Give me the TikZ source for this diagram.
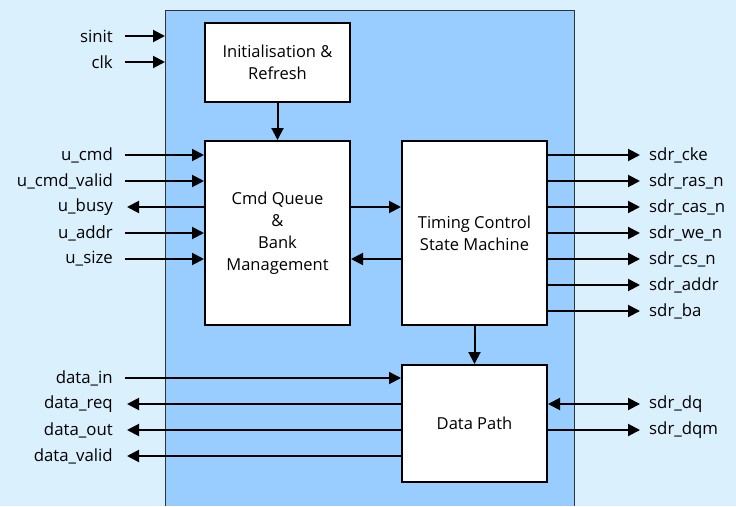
\documentclass[tikz,border=0pt]{standalone}
\usepackage{fontspec}
\setmainfont{Open Sans}
\usetikzlibrary{arrows.meta}
\definecolor{bgc}{HTML}{DAF0FD}
\definecolor{blk}{HTML}{99CCFF}
\begin{document}
\begin{tikzpicture}[x=1pt,y=-1pt,
  box/.style={draw=black,line width=2pt,fill=white,align=center,inner sep=0pt,font=\fontsize{16.5}{22}\selectfont},
  sig/.style={line width=2pt,-{Triangle[length=12pt,width=12pt]}},
  bsig/.style={line width=2pt,{Triangle[length=12pt,width=12pt]}-{Triangle[length=12pt,width=12pt]}},
  lab/.style={font=\fontsize{16.8}{18}\selectfont,inner sep=0pt},
  ll/.style={lab,anchor=east},
  rl/.style={lab,anchor=west}]
\fill[bgc] (0,0) rectangle (736,506);
\useasboundingbox (0,0) rectangle (736,506);
\fill[blk] (165,10) rectangle (574,506);
\draw[line width=1pt,black!80] (165,506) -- (165,10) -- (574,10) -- (574,506);

\node[box,minimum width=145pt,minimum height=79pt] (init) at (277.5,62.5) {Initialisation \&\\Refresh};
\node[box,minimum width=145pt,minimum height=184pt] (cmd) at (277.5,233) {Cmd Queue\\\&\\Bank\\Management};
\node[box,minimum width=145pt,minimum height=184pt] (tim) at (474.5,233) {Timing Control\\State Machine};
\node[box,minimum width=145pt,minimum height=117pt] (dp) at (474.5,423.5) {Data Path};

% top-left inputs
\coordinate (outerW1) at (165,36);
\coordinate (outerW2) at (165,62);
\node[ll] (lsinit) at (113,36) {sinit};
\node[ll] (lclk) at (113,62) {clk};
\draw[sig] (lsinit.east)++(12,0) -- (outerW1);
\draw[sig] (lclk.east)++(12,0) -- (outerW2);

% user side
\foreach \n/\t/\y in {ucmd/u\_cmd/155, uval/u\_cmd\_valid/181, uaddr/u\_addr/233, usize/u\_size/259}{
  \node[ll] (\n) at (113,\y) {\t};
  \draw[sig] ([xshift=12pt]\n.east) -- (cmd.west |- \n.east);
}
\node[ll] (ubusy) at (113,207) {u\_busy};
\draw[sig] (cmd.west |- ubusy.east) -- ([xshift=14pt]ubusy.east);

% internal
\draw[sig] (init.south) -- (cmd.north);
\draw[sig] (cmd.east |- 0,207) -- (tim.west |- 0,207);
\draw[sig] (tim.west |- 0,259) -- (cmd.east |- 0,259);
\draw[sig] (tim.south) -- (dp.north);

% sdram side
\foreach \n/\t/\y in {cke/sdr\_cke/155, ras/sdr\_ras\_n/181, cas/sdr\_cas\_n/207, we/sdr\_we\_n/233, cs/sdr\_cs\_n/259, sa/sdr\_addr/285, ba/sdr\_ba/311}{
  \node[rl] (\n) at (649,\y) {\t};
  \draw[sig] (tim.east |- \n.west) -- ([xshift=-9pt]\n.west);
}
\node[rl] (dq) at (649,404) {sdr\_dq};
\draw[bsig] (dp.east |- dq.west) -- ([xshift=-9pt]dq.west);
\node[rl] (dqm) at (649,430) {sdr\_dqm};
\draw[sig] (dp.east |- dqm.west) -- ([xshift=-9pt]dqm.west);

% data side
\node[ll] (din) at (113,378) {data\_in};
\draw[sig] ([xshift=12pt]din.east) -- (dp.west |- din.east);
\foreach \n/\t/\y in {dreq/data\_req/404, dout/data\_out/430, dval/data\_valid/456}{
  \node[ll] (\n) at (113,\y) {\t};
  \draw[sig] (dp.west |- \n.east) -- ([xshift=14pt]\n.east);
}
\end{tikzpicture}
\end{document}
